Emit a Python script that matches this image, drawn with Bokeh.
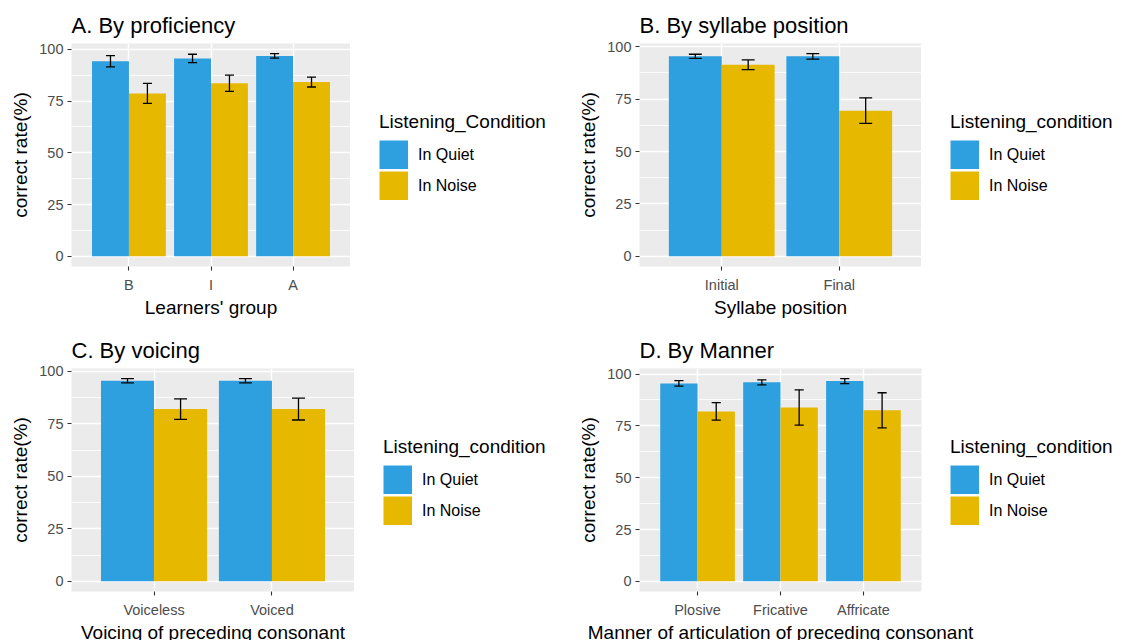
from bokeh.plotting import figure
from bokeh.models import (FactorRange, Range1d, FixedTicker, Legend, LegendItem,
                          ColumnDataSource)
from bokeh.transform import dodge
from bokeh.layouts import column, row
from bokeh.embed import file_html
from bokeh.resources import INLINE

# ---------------- data ----------------
prof_groups = ["B", "I", "A"]
prof_quiet = [94.2, 95.6, 96.8]
prof_quiet_err = [2.7, 2.0, 1.1]
prof_noise = [78.7, 83.6, 84.2]
prof_noise_err = [4.8, 3.9, 2.4]

syl_positions = ["Initial", "Final"]
syl_quiet = [95.4, 95.4]
syl_quiet_err = [1.0, 1.3]
syl_noise = [91.4, 69.5]
syl_noise_err = [2.3, 6.1]

voi_groups = ["Voiceless", "Voiced"]
voi_quiet = [95.5, 95.5]
voi_quiet_err = [1.0, 1.0]
voi_noise = [82.0, 82.0]
voi_noise_err = [4.9, 5.2]

man_groups = ["Plosive", "Fricative", "Affricate"]
man_quiet = [95.5, 96.0, 96.6]
man_quiet_err = [1.3, 1.2, 1.2]
man_noise = [82.0, 83.9, 82.5]
man_noise_err = [4.2, 8.5, 8.5]

condition_labels = ["In Quiet", "In Noise"]

# ---------------- style ----------------
FONT = "Liberation Sans"
QUIET_COLOR = "#2E9FDF"
NOISE_COLOR = "#E7B800"
PANEL_BG = "#EBEBEB"
TICK_TEXT = "#4D4D4D"
BAR_W = 0.45
HEAD_HALF = 0.055
KEY = 29


def make_legend_fig(legend_title, width, height, top, overlap):
    lf = figure(width=width, height=height, x_range=Range1d(0, 1),
                y_range=Range1d(0, 1), min_border=0, output_backend="svg",
                toolbar_location=None, outline_line_color=None,
                x_axis_location=None, y_axis_location=None,
                border_fill_color=None, background_fill_color=None)
    lf.grid.visible = False
    if overlap:
        lf.margin = (0, 0, 0, -overlap)
    # legend keys: thick butt-capped lines fill the whole key square
    r_q = lf.line(x=[-10, -9], y=[-10, -10], line_width=KEY,
                  line_color=QUIET_COLOR, line_cap="butt")
    r_n = lf.line(x=[-10, -9], y=[-10, -10], line_width=KEY,
                  line_color=NOISE_COLOR, line_cap="butt")
    legend = Legend(items=[LegendItem(label=condition_labels[0], renderers=[r_q]),
                           LegendItem(label=condition_labels[1], renderers=[r_n])],
                    title=legend_title,
                    location=(29, height - top - 211))
    legend.title_text_font = FONT
    legend.title_text_font_size = "19px"
    legend.title_text_font_style = "normal"
    legend.title_text_color = "black"
    legend.title_standoff = 7
    legend.label_text_font = FONT
    legend.label_text_font_size = "16px"
    legend.label_text_color = "black"
    legend.glyph_width = KEY
    legend.glyph_height = KEY
    legend.label_height = KEY
    legend.spacing = 2
    legend.label_standoff = 10
    legend.padding = 0
    legend.margin = 0
    legend.border_line_color = None
    legend.background_fill_alpha = 0
    lf.add_layout(legend, "center")
    return lf


def make_panel(title, cats, quiet, quiet_err, noise, noise_err, xlabel,
               legend_title, frame_w, frame_h, left, top, fig_w, fig_h, overlap=0):
    q_lo = [v - e for v, e in zip(quiet, quiet_err)]
    q_hi = [v + e for v, e in zip(quiet, quiet_err)]
    n_lo = [v - e for v, e in zip(noise, noise_err)]
    n_hi = [v + e for v, e in zip(noise, noise_err)]
    src = ColumnDataSource(dict(cat=cats, quiet=quiet, noise=noise,
                                q_lo=q_lo, q_hi=q_hi, n_lo=n_lo, n_hi=n_hi))
    ymax = max(q_hi + n_hi)
    p = figure(x_range=FactorRange(*cats, range_padding=0.2,
                                   range_padding_units="absolute"),
               y_range=Range1d(-0.05 * ymax, 1.05 * ymax),
               frame_width=frame_w, frame_height=frame_h,
               min_border_left=left, min_border_top=top,
               min_border_right=overlap,
               min_border_bottom=fig_h - top - frame_h,
               output_backend="svg", toolbar_location=None,
               background_fill_color=PANEL_BG, border_fill_color="white",
               outline_line_color=None)
    xr = p.x_range
    p.vbar(x=dodge("cat", -BAR_W / 2, range=xr), top="quiet", width=BAR_W,
           source=src, fill_color=QUIET_COLOR, line_color=None)
    p.vbar(x=dodge("cat", BAR_W / 2, range=xr), top="noise", width=BAR_W,
           source=src, fill_color=NOISE_COLOR, line_color=None)
    for off, lo, hi in [(-BAR_W / 2, "q_lo", "q_hi"), (BAR_W / 2, "n_lo", "n_hi")]:
        p.segment(x0=dodge("cat", off, range=xr), x1=dodge("cat", off, range=xr),
                  y0=lo, y1=hi, source=src, line_color="black", line_width=1.3)
        for end in (lo, hi):
            p.segment(x0=dodge("cat", off - HEAD_HALF, range=xr),
                      x1=dodge("cat", off + HEAD_HALF, range=xr),
                      y0=end, y1=end, source=src, line_color="black", line_width=1.3)

    # title
    p.title.text = title
    p.title.text_font = FONT
    p.title.text_font_size = "22px"
    p.title.text_font_style = "normal"
    p.title.text_color = "black"
    p.title.align = "left"
    p.title.standoff = 12

    ticker = FixedTicker(ticks=[0, 25, 50, 75, 100],
                         minor_ticks=[12.5, 37.5, 62.5, 87.5])
    p.yaxis.ticker = ticker
    p.ygrid.ticker = ticker
    p.ygrid.grid_line_color = "white"
    p.ygrid.grid_line_width = 1.4
    p.ygrid.minor_grid_line_color = "white"
    p.ygrid.minor_grid_line_width = 0.8
    p.xgrid.grid_line_color = "white"
    p.xgrid.grid_line_width = 1.4

    for ax in (p.xaxis[0], p.yaxis[0]):
        ax.axis_line_color = None
        ax.major_tick_line_color = "#333333"
        ax.major_tick_line_width = 1.1
        ax.major_tick_out = 4
        ax.major_tick_in = 0
        ax.minor_tick_line_color = None
        ax.major_label_text_font = FONT
        ax.major_label_text_font_size = "14.5px"
        ax.major_label_text_color = TICK_TEXT
        ax.axis_label_text_font = FONT
        ax.axis_label_text_font_size = "19px"
        ax.axis_label_text_font_style = "normal"
        ax.axis_label_text_color = "black"
    p.xaxis.major_label_standoff = 6
    p.xaxis.axis_label_standoff = 1
    p.yaxis.major_label_standoff = 4
    p.yaxis.axis_label_standoff = 5
    p.xaxis.axis_label = xlabel
    p.yaxis.axis_label = "correct rate(%)"

    lf = make_legend_fig(legend_title, fig_w - left - frame_w, fig_h, top, overlap)
    return row(p, lf, spacing=0)


pa = make_panel("A. By proficiency", prof_groups, prof_quiet, prof_quiet_err,
                prof_noise, prof_noise_err, "Learners' group", "Listening_Condition",
                279, 223, 71, 43, 561, 320)
pb = make_panel("B. By syllabe position", syl_positions, syl_quiet, syl_quiet_err,
                syl_noise, syl_noise_err, "Syllabe position", "Listening_condition",
                282, 223, 78, 43, 561, 320)
pc = make_panel("C. By voicing", voi_groups, voi_quiet, voi_quiet_err,
                voi_noise, voi_noise_err, "Voicing of preceding consonant",
                "Listening_condition", 283, 223, 71, 48, 561, 320)
pd = make_panel("D. By Manner", man_groups, man_quiet, man_quiet_err,
                man_noise, man_noise_err,
                "Manner of articulation of preceding consonant",
                "Listening_condition", 282, 223, 78, 48, 561, 320, overlap=80)

layout = column(row(pa, pb, spacing=0), row(pc, pd, spacing=0), spacing=0)

open("out.html", "w").write(file_html(layout, INLINE))
